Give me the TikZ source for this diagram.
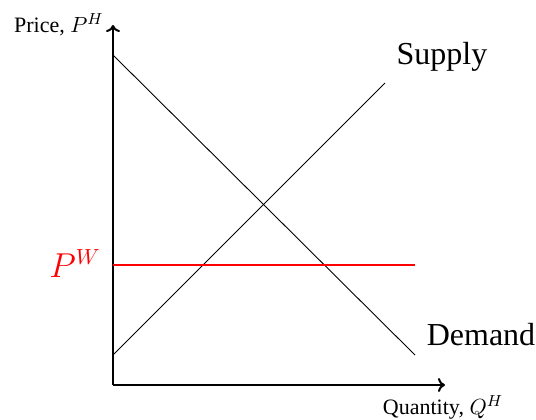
\documentclass[tikz,border=0pt]{standalone}
\usepackage{fontspec}
\setmainfont{Liberation Serif}
\usetikzlibrary{arrows.meta}
\begin{document}
\begin{tikzpicture}[x=0.5pt,y=-0.5pt,
  axis/.style={line width=1pt,-{To[length=3.5pt,width=7pt]}},
  curve/.style={line width=0.45pt},
  small/.style={font=\fontsize{11}{13}\selectfont,inner sep=0pt},
  big/.style={font=\fontsize{16}{19}\selectfont,inner sep=0pt}]
\useasboundingbox (0,0) rectangle (536,419);
\coordinate (O) at (113,385);
\coordinate (ytop) at (113,25);
\coordinate (xend) at (445,385);
\coordinate (d1) at (113,55);
\coordinate (d2) at (415,355);
\coordinate (s1) at (113,355);
\coordinate (s2) at (385,83);
\coordinate (w1) at (113,265);
\coordinate (w2) at (415,265);
\draw[axis] (O) -- (ytop);
\draw[axis] (O) -- (xend);
\draw[curve] (d1) -- (d2);
\draw[curve] (s1) -- (s2);
\draw[red,line width=0.6pt] (w1) -- (w2);
\node[small,anchor=base east] (py) at (104,32) {Price, $P^H$};
\node[small,anchor=base] (qx) at (443,414) {Quantity, $Q^H$};
\node[big,anchor=base] (sup) at (442,64) {Supply};
\node[big,anchor=base] (dem) at (481,345) {Demand};
\node[big,anchor=base east,text=red] (pw) at (101,277) {$P^W$};
\end{tikzpicture}
\end{document}
